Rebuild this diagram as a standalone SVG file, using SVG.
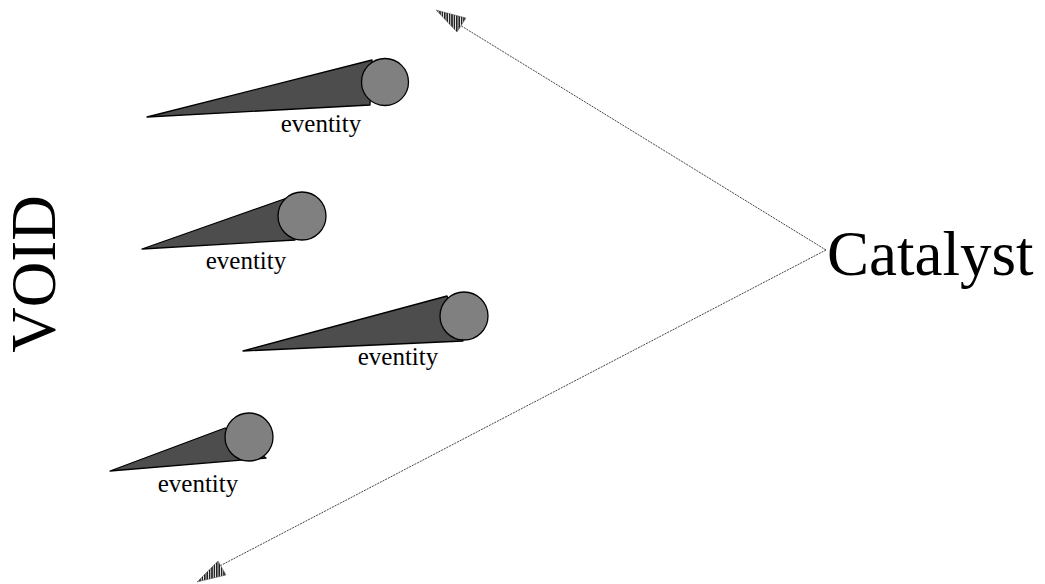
<svg xmlns="http://www.w3.org/2000/svg" width="1045" height="584" viewBox="0 0 1045 584">
<style>
.tail{fill:#4d4d4d;stroke:#000;stroke-width:1.3;stroke-linejoin:round}
.head{fill:#808080;stroke:#000;stroke-width:1.3}
.lbl{font-family:"Liberation Serif","Times New Roman",serif;font-size:25px;fill:#000;text-anchor:middle}
.big{font-family:"Liberation Serif","Times New Roman",serif;font-size:63px;fill:#000}
.conn{fill:none;stroke:#444;stroke-width:1;stroke-dasharray:2,1}
.ah{fill:url(#hatch);stroke:#555;stroke-width:0.5}
</style>
<defs>
<pattern id="hatch" patternUnits="userSpaceOnUse" width="2.4" height="4">
<rect width="2.4" height="4" fill="#fff"/>
<rect width="1.6" height="4" fill="#222"/>
</pattern>
</defs>
<rect width="1045" height="584" fill="#fff"/>
<g id="void"><text class="big" transform="translate(55,274) rotate(-90)" text-anchor="middle">VOID</text></g>
<g id="catalyst"><text class="big" x="827" y="275">Catalyst</text></g>
<g id="connectors">
<path class="conn" d="M826,250 L450,19"/>
<path class="conn" d="M826,250 L212,570"/>
<polygon class="ah" points="436,10 466,18 457,32"/>
<polygon class="ah" points="197,582 218,561 226,575"/>
</g>
<g id="eventity1">
<polygon class="tail" points="147,117 372,60 370,105"/>
<circle class="head" cx="385" cy="82" r="23.5"/>
<text class="lbl" x="321" y="132">eventity</text>
</g>
<g id="eventity2">
<polygon class="tail" points="142,249 287,198 295,240"/>
<circle class="head" cx="302" cy="216" r="24"/>
<text class="lbl" x="246" y="269">eventity</text>
</g>
<g id="eventity3">
<polygon class="tail" points="243,351 447,296 463,341"/>
<circle class="head" cx="464" cy="316" r="24"/>
<text class="lbl" x="398" y="365">eventity</text>
</g>
<g id="eventity4">
<polygon class="tail" points="110,471 225,428 266,458"/>
<circle class="head" cx="249" cy="437" r="24"/>
<text class="lbl" x="198" y="492">eventity</text>
</g>
</svg>
